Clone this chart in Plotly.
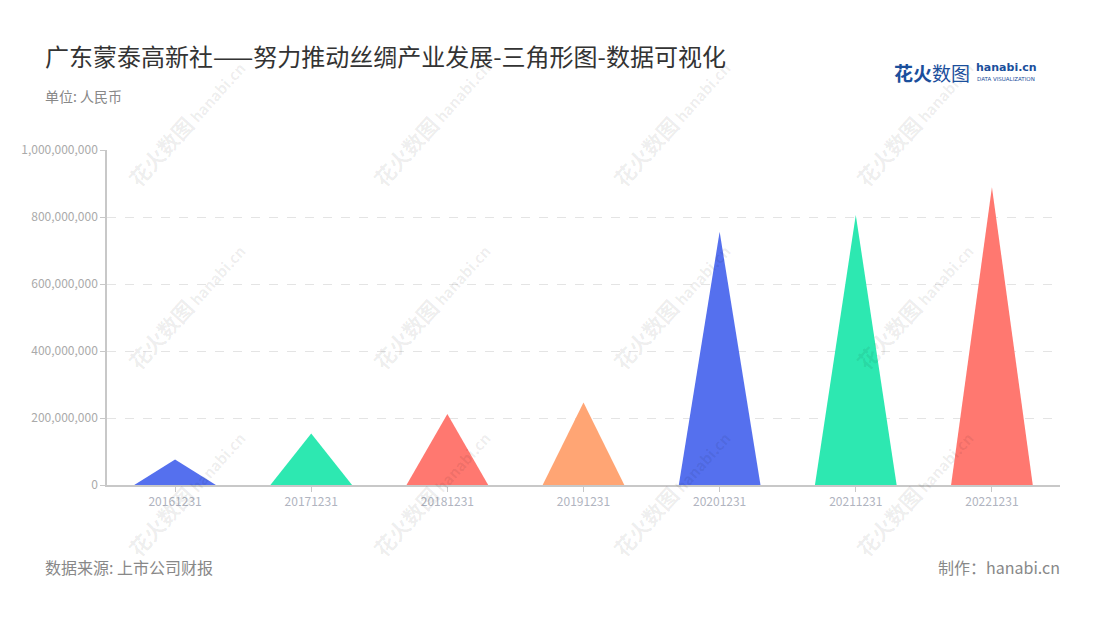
import plotly.graph_objects as go

categories = ["20161231", "20171231", "20181231", "20191231", "20201231", "20211231", "20221231"]
values = [76000000, 154000000, 212000000, 246000000, 756000000, 806000000, 889000000]
colors = ["#5570ee", "#2de8b1", "#ff7870", "#ffa574", "#5570ee", "#2de8b1", "#ff7870"]
y_ticks = [0, 200000000, 400000000, 600000000, 800000000, 1000000000]

FONT = "Noto Sans CJK SC"
half_width = 0.3

# figure is placed at an 8px page offset (body margin)
OFF = 8
W, H = 1100 - OFF, 620 - OFF
L, R, T, B = 107 - OFF, 1060 - OFF, 150 - OFF, 485 - OFF  # plot area in figure px

fig = go.Figure()
for i, (cat, v, c) in enumerate(zip(categories, values, colors)):
    fig.add_trace(go.Scatter(
        x=[i - half_width, i, i + half_width, i - half_width],
        y=[0, v, 0, 0],
        mode="lines",
        fill="toself",
        fillcolor=c,
        line=dict(width=0, color=c),
        hoverinfo="text",
        text=f"{cat}: {v:,}",
        showlegend=False,
    ))

fig.update_layout(
    width=W, height=H,
    paper_bgcolor="white", plot_bgcolor="white",
    margin=dict(l=L, r=W - R, t=T, b=H - B),
    font=dict(family=FONT, color="#999"),
    xaxis=dict(
        range=[-0.5, len(categories) - 0.5],
        tickvals=list(range(len(categories))),
        ticktext=categories,
        showgrid=False, zeroline=False,
        showline=True, linecolor="#c8c8c8", linewidth=1.5,
        ticks="outside", ticklen=5, tickcolor="#c8c8c8",
        tickfont=dict(size=12, color="#b0b4c0", family=FONT),
        fixedrange=True,
    ),
    yaxis=dict(
        range=[0, 1000000000],
        tickvals=y_ticks,
        tickformat=",d",
        showgrid=True, gridcolor="#e4e4e4", griddash="dash", gridwidth=1,
        zeroline=False,
        showline=True, linecolor="#c8c8c8", linewidth=1.5,
        ticks="outside", ticklen=5, tickcolor="#c8c8c8",
        tickfont=dict(size=12, color="#aaaaaa", family=FONT),
        fixedrange=True,
    ),
)

def paper_xy(page_x, page_y):
    fx, fy = page_x - OFF, page_y - OFF
    return (fx - L) / (R - L), (B - fy) / (B - T)

def text_at(page_x, page_y, text, size, color, xanchor="left", family=FONT):
    x0, y0 = paper_xy(page_x, page_y)
    fig.add_annotation(x=x0, y=y0, xref="paper", yref="paper", xanchor=xanchor, yanchor="middle",
                       text=text, showarrow=False,
                       font=dict(size=size, color=color, family=family))

# watermarks
for wx in [186, 431, 671, 914]:
    for wy in [123, 306, 493]:
        x0, y0 = paper_xy(wx, wy)
        fig.add_annotation(
            x=x0, y=y0, xref="paper", yref="paper",
            xanchor="center", yanchor="middle",
            text="<b><span style='font-size:21px'>花火数图</span> hanabi.cn</b>",
            showarrow=False, textangle=-48,
            font=dict(size=15, color="rgba(0,0,0,0.075)", family=FONT),
        )

text_at(43, 55, "广东蒙泰高新社——努力推动丝绸产业发展-三角形图-数据可视化", 24, "#333333")
text_at(43, 96, "单位: 人民币", 14, "#888888")
text_at(43, 567, "数据来源: 上市公司财报", 16, "#888888")
text_at(1062, 567, "制作：hanabi.cn", 16, "#888888", xanchor="right")
# logo
text_at(892, 72, "<b>花火</b>数图", 19, "#1b4f9c")
text_at(974, 68, "<b>hanabi.cn</b>", 11, "#1b4f9c", family="DejaVu Sans")
text_at(975, 79, "DATA VISUALIZATION", 5.5, "#1b4f9c", family="DejaVu Sans")

fig.write_html("out.html")
